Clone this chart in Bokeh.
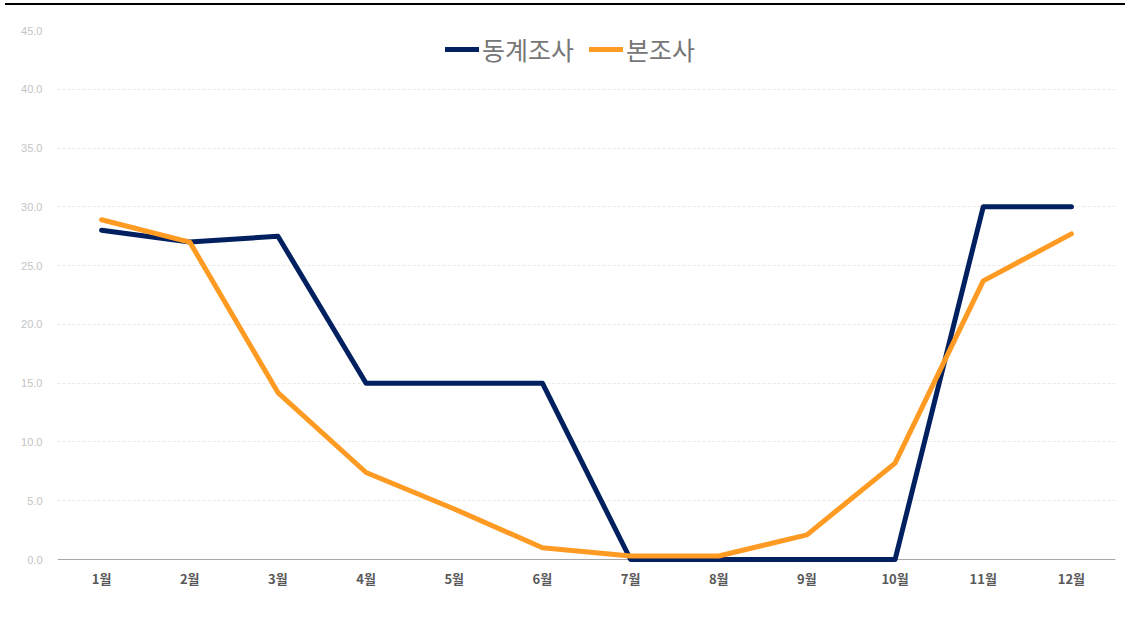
from bokeh.plotting import figure
from bokeh.models import Range1d, FixedTicker, NumeralTickFormatter, Span, Legend, LegendItem
from bokeh.embed import file_html
from bokeh.resources import INLINE

months = ["1월", "2월", "3월", "4월", "5월", "6월", "7월", "8월", "9월", "10월", "11월", "12월"]
winter_survey = [28.0, 27.0, 27.5, 15.0, 15.0, 15.0, 0.0, 0.0, 0.0, 0.0, 30.0, 30.0]
main_survey = [28.9, 27.0, 14.2, 7.4, 4.3, 1.0, 0.3, 0.3, 2.1, 8.2, 23.7, 27.7]
series_names = ["동계조사", "본조사"]
y_ticks = [0, 5, 10, 15, 20, 25, 30, 35, 40, 45]

p = figure(x_range=months, y_range=Range1d(-0.425, 45), width=1120, height=610,
           output_backend="svg", toolbar_location=None,
           min_border_left=52, min_border_right=10, min_border_top=25, min_border_bottom=51)
p.styles = {"margin-left": "5px", "margin-top": "3px", "border-top": "2px solid #000000"}
p.outline_line_color = None
p.background_fill_color = "white"
p.border_fill_color = "white"

p.xgrid.grid_line_color = None
p.ygrid.grid_line_color = "#e9e9e9"
p.ygrid.grid_line_dash = "3 2"
p.ygrid.grid_line_width = 1

p.yaxis.ticker = FixedTicker(ticks=y_ticks)
p.yaxis.formatter = NumeralTickFormatter(format="0.0")
p.yaxis.axis_line_color = None
p.yaxis.major_tick_line_color = None
p.yaxis.minor_tick_line_color = None
p.yaxis.major_label_text_color = "#c4c4c4"
p.yaxis.major_label_text_font = "Liberation Sans"
p.yaxis.major_label_text_font_size = "11px"
p.yaxis.major_label_standoff = 9

p.xaxis.axis_line_color = None
p.xaxis.major_tick_line_color = None
p.xaxis.minor_tick_line_color = None
p.xaxis.major_label_text_color = "#595959"
p.xaxis.major_label_text_font = "Noto Sans CJK KR"
p.xaxis.major_label_text_font_style = "bold"
p.xaxis.major_label_text_font_size = "13px"
p.xaxis.major_label_standoff = -2

baseline = Span(location=0, dimension="width", line_color="#a6a6a6", line_width=1, level="underlay")
p.add_layout(baseline)

r1 = p.line(months, winter_survey, line_color="#002060", line_width=5, line_cap="round", line_join="round")
r2 = p.line(months, main_survey, line_color="#FF9A22", line_width=5, line_cap="round", line_join="round")

legend = Legend(items=[LegendItem(label=series_names[0], renderers=[r1]),
                       LegendItem(label=series_names[1], renderers=[r2])],
                location=(388, 497), orientation="horizontal")
legend.border_line_color = None
legend.background_fill_alpha = 0
legend.label_text_font = "Noto Sans CJK KR"
legend.label_text_font_size = "25px"
legend.label_text_color = "#767676"
legend.glyph_width = 34
legend.label_standoff = 3
legend.spacing = 15
legend.margin = 0
legend.padding = 8
legend.glyph_height = 24
p.add_layout(legend)

open("out.html", "w").write(file_html(p, INLINE))
